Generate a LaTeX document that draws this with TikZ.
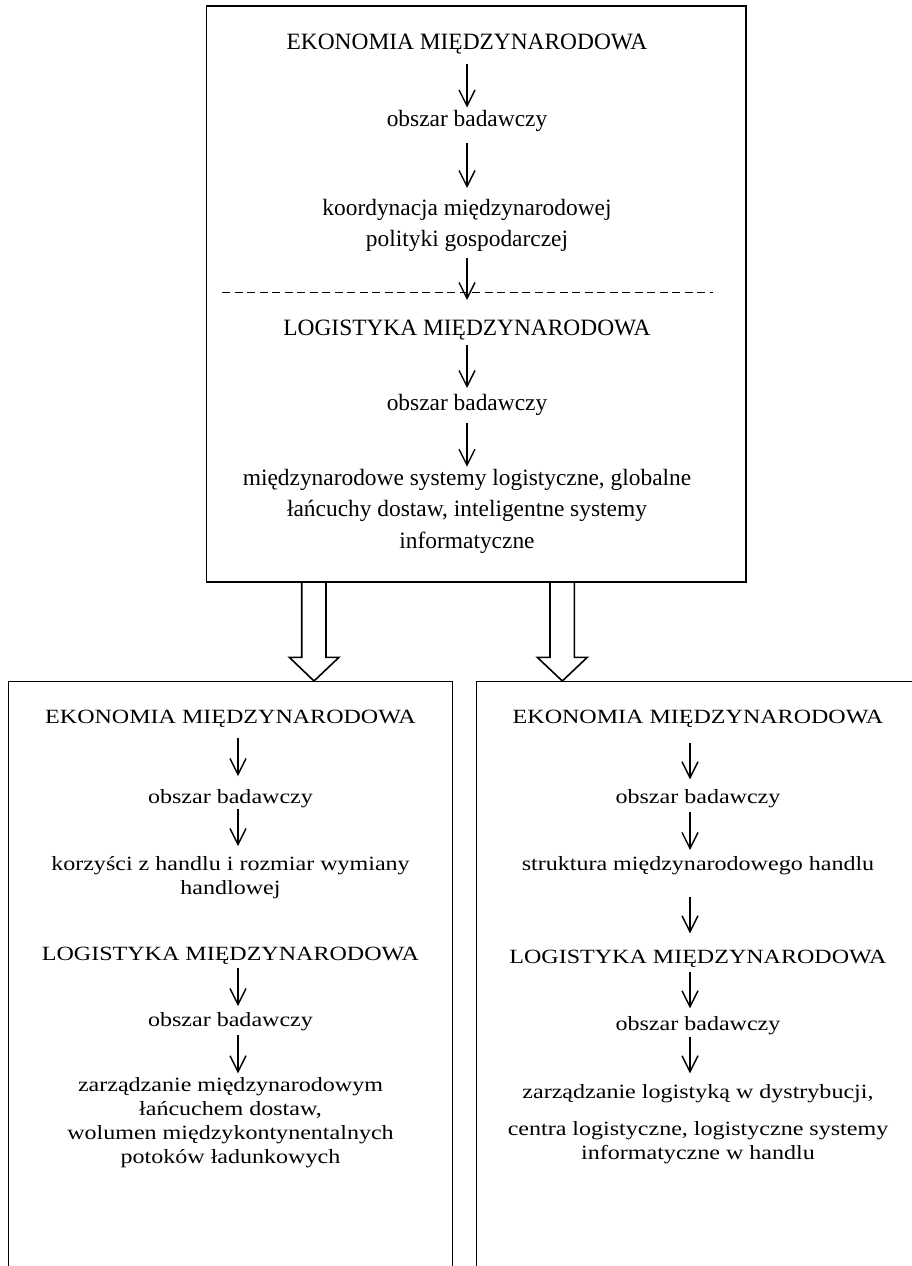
\documentclass[tikz,border=0pt]{standalone}
\usepackage{fontspec}
\setmainfont{Liberation Serif}
\newfontfamily\wideserif[FakeStretch=1.19]{Liberation Serif}
\usetikzlibrary{arrows.meta}
\newcommand\mlines[1]{\begin{tabular}[t]{@{}c@{}}#1\end{tabular}}
\tikzset{
  topt/.style={anchor=base, inner sep=0pt, font=\fontsize{23.4}{31.5}\selectfont},
  bott/.style={anchor=base, inner sep=0pt, font=\wideserif\fontsize{20.2}{24}\selectfont},
  arr/.style={line width=1.4pt, -{Straight Barb[length=16pt,width=16pt,line width=1.4pt]}},
  frame/.style={draw, line width=1.9pt, inner sep=0pt, outer sep=0pt, anchor=north west},
  hollow/.style={draw, line width=1.6pt, line join=miter},
  sep/.style={line width=1.4pt, dash pattern=on 8pt off 4.5pt}
}
\begin{document}
\begin{tikzpicture}[x=1pt,y=-1pt]
\useasboundingbox (0,0) rectangle (912,1266);
\clip (0,0) rectangle (912,1266);
% frames
\node[frame, minimum width=539.5pt, minimum height=576pt] (tb) at (206.5,6) {};
\node[frame, minimum width=444pt, minimum height=700pt] (lb) at (8.5,681.5) {};
\node[frame, minimum width=500pt, minimum height=700pt] (rb) at (476.5,681.5) {};
% top box
\node[topt] (t1) at (467,49.3) {EKONOMIA MIĘDZYNARODOWA};
\node[topt] (t2) at (467,126.5) {obszar badawczy};
\node[topt] (t3) at (467,215) {\mlines{koordynacja międzynarodowej\\polityki gospodarczej}};
\node[topt] (t4) at (467,335) {LOGISTYKA MIĘDZYNARODOWA};
\node[topt] (t5) at (467,410) {obszar badawczy};
\node[topt] (t6) at (467,485) {\mlines{międzynarodowe systemy logistyczne, globalne\\łańcuchy dostaw, inteligentne systemy\\informatyczne}};
\draw[arr] ([yshift=-15pt]t1.base) -- ([yshift=19pt]t2.base);
\draw[arr] ([yshift=-16.5pt]t2.base) -- ([yshift=27pt]t3.base);
\draw[arr] ([yshift=-43pt]t3.base) -- ([yshift=35pt]t4.base);
\draw[arr] ([yshift=-10pt]t4.base) -- ([yshift=22pt]t5.base);
\draw[arr] ([yshift=-12.7pt]t5.base) -- ([yshift=18.3pt]t6.base);
\coordinate (dl) at (222,292.7);
\coordinate (dr) at (713,292.7);
\draw[sep] (dl) -- (dr);
% hollow arrows
\draw[hollow] (301.7,582) -- (301.7,657.3) -- (289.3,657.3) -- (314,681) -- (339,657.3) -- (326,657.3) -- (326,582);
\draw[hollow] (550,582) -- (550,657.3) -- (537.3,657.3) -- (562.3,681) -- (587.3,657.3) -- (574.3,657.3) -- (574.3,582);
% bottom left box
\node[bott] (l1) at (230.5,723.3) {EKONOMIA MIĘDZYNARODOWA};
\node[bott] (l2) at (230.5,803.3) {obszar badawczy};
\node[bott] (l3) at (230.5,870) {\mlines{korzyści z handlu i rozmiar wymiany\\handlowej}};
\node[bott] (l4) at (230.5,960.7) {LOGISTYKA MIĘDZYNARODOWA};
\node[bott] (l5) at (230.5,1026.7) {obszar badawczy};
\node[bott] (l6) at (230.5,1091.7) {\mlines{zarządzanie międzynarodowym\\łańcuchem dostaw,\\wolumen międzykontynentalnych\\potoków ładunkowych}};
\draw[arr] ([xshift=7.5pt,yshift=-15pt]l1.base) -- ([xshift=7.5pt,yshift=27.3pt]l2.base);
\draw[arr] ([xshift=7.5pt,yshift=-6pt]l2.base) -- ([xshift=7.5pt,yshift=24pt]l3.base);
\draw[arr] ([xshift=7.5pt,yshift=-7pt]l4.base) -- ([xshift=7.5pt,yshift=20.7pt]l5.base);
\draw[arr] ([xshift=7.5pt,yshift=-8.3pt]l5.base) -- ([xshift=7.5pt,yshift=18.4pt]l6.base);
% bottom right box
\node[bott] (r1) at (698,723.3) {EKONOMIA MIĘDZYNARODOWA};
\node[bott] (r2) at (698,803.3) {obszar badawczy};
\node[bott] (r3) at (698,870) {struktura międzynarodowego handlu};
\node[bott] (r4) at (698,963.3) {LOGISTYKA MIĘDZYNARODOWA};
\node[bott] (r5) at (698,1030) {obszar badawczy};
\node[bott] (r6) at (698,1098.3) {zarządzanie logistyką w dystrybucji,};
\node[bott] (r7) at (698,1135) {\mlines{centra logistyczne, logistyczne systemy\\informatyczne w handlu}};
\draw[arr] ([xshift=-8pt,yshift=-19.4pt]r1.base) -- ([xshift=-8pt,yshift=24pt]r2.base);
\draw[arr] ([xshift=-8pt,yshift=-8.4pt]r2.base) -- ([xshift=-8pt,yshift=20pt]r3.base);
\draw[arr] ([xshift=-8pt,yshift=-26.7pt]r3.base) -- ([xshift=-8pt,yshift=30pt]r4.base);
\draw[arr] ([xshift=-8pt,yshift=-8.4pt]r4.base) -- ([xshift=-8pt,yshift=21.7pt]r5.base);
\draw[arr] ([xshift=-8pt,yshift=-6.7pt]r5.base) -- ([xshift=-8pt,yshift=25pt]r6.base);
\end{tikzpicture}
\end{document}
